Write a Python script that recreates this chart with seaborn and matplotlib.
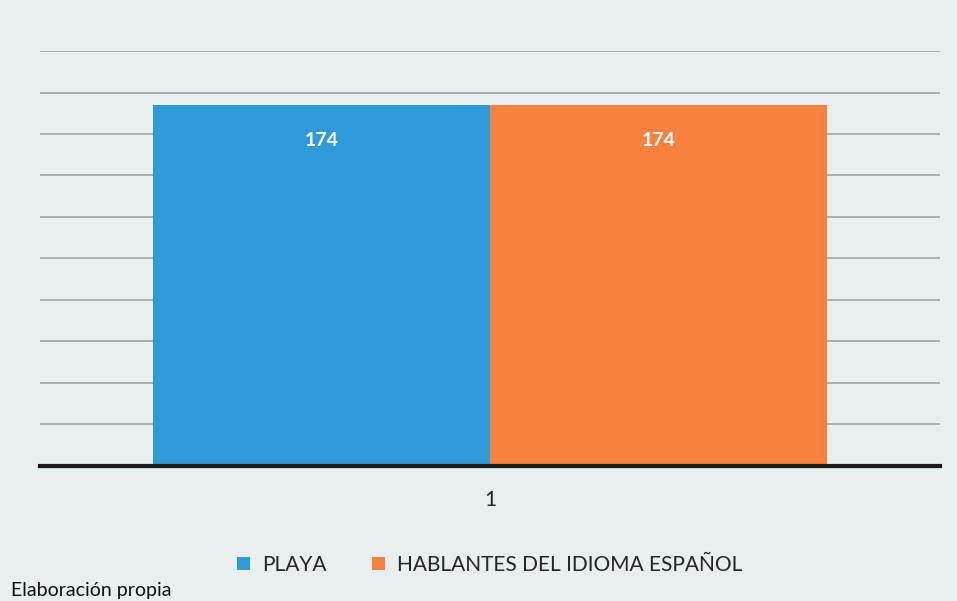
import pandas as pd
import matplotlib.pyplot as plt
import seaborn as sns

categories = ["1", "1"]
series = ["PLAYA", "HABLANTES DEL IDIOMA ESPAÑOL"]
values = [174, 174]
colors = ["#2E9AD8", "#F7823F"]

df = pd.DataFrame({"categoria": categories, "serie": series, "valor": values})

sns.set_style("white")
plt.rcParams["font.family"] = ["Lato", "DejaVu Sans"]

fig = plt.figure(figsize=(9.57, 6.01), dpi=100, facecolor="#e9eeee")
ax = fig.add_axes([0.042, 0.225, 0.94, 0.69])
ax.set_facecolor("#e9eeee")

sns.barplot(data=df, x="categoria", y="valor", hue="serie", palette=colors,
            width=0.75, saturation=1, edgecolor="none", ax=ax, zorder=2)

ax.set_ylim(0, 200)
ax.set_xlim(-0.5, 0.5)
ax.set_yticks(range(0, 201, 20))
ax.yaxis.grid(True, color="#9a9d9e", linewidth=1.1, zorder=0)
ax.set_axisbelow(True)
ax.tick_params(axis="y", left=False, labelleft=False)
ax.tick_params(axis="x", bottom=False, labelsize=15, pad=14, colors="#222222")
ax.set_xlabel("")
ax.set_ylabel("")
for side in ["top", "right", "left"]:
    ax.spines[side].set_visible(False)
ax.spines["bottom"].set_color("#1a1a1a")
ax.spines["bottom"].set_linewidth(3)

for container in ax.containers:
    ax.bar_label(container, labels=[f"{v:.0f}" for v in container.datavalues],
                 padding=-32, color="white", fontsize=14, fontweight="bold")

ax.legend(loc="upper center", bbox_to_anchor=(0.5, -0.17), ncol=2, frameon=False,
          handlelength=0.6, handleheight=0.6, handletextpad=0.6, columnspacing=2.2,
          fontsize=15)

fig.text(0.012, 0.003, "Elaboración propia", fontsize=14, color="#111111",
         ha="left", va="bottom")

fig.savefig("out.png", dpi=100, facecolor=fig.get_facecolor())
